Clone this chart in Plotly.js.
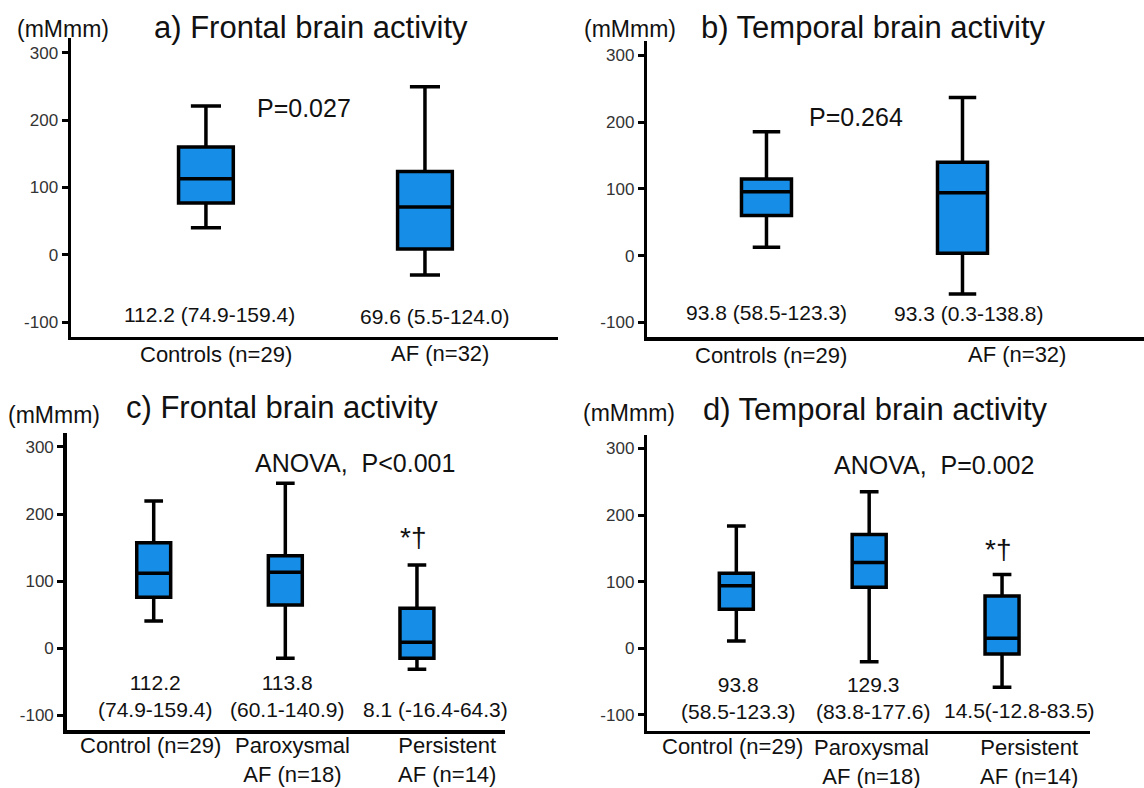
<!DOCTYPE html>
<html><head><meta charset="utf-8">
<script src="https://cdn.plot.ly/plotly-3.0.1.min.js"></script>
<style>html,body{margin:0;padding:0;background:#fff}#chart{width:1144px;height:788px}</style>
</head><body><div id="chart"></div>
<script>
// ---------- data ----------
const catsTop = ['Controls (n=29)', 'AF (n=32)'];
const catsBottom = ['Control (n=29)', 'Paroxysmal AF (n=18)', 'Persistent AF (n=14)'];
const labelsTop = ['Controls (n=29)', 'AF (n=32)'];
const labelsBottom = ['Control (n=29)', 'Paroxysmal<br>AF (n=18)', 'Persistent<br>AF (n=14)'];
const yTickVals = [-100, 0, 100, 200, 300];
const yTickText = ['-100', '0', '100', '200', '300'];

// a) Frontal, Controls vs AF
const aLower  = [40, -30];
const aQ1     = [77, 8.5];
const aMedian = [113, 71];
const aQ3     = [160, 123.5];
const aUpper  = [221, 249.5];
const aSummary = ['112.2 (74.9-159.4)', '69.6 (5.5-124.0)'];

// b) Temporal, Controls vs AF
const bLower  = [12.6, -57.3];
const bQ1     = [60, 3.6];
const bMedian = [95.8, 94.3];
const bQ3     = [114.8, 139.8];
const bUpper  = [185.6, 237];
const bSummary = ['93.8 (58.5-123.3)', '93.3 (0.3-138.8)'];

// c) Frontal, three groups
const cLower  = [40.7, -14.9, -31.3];
const cQ1     = [76, 64.5, -14.9];
const cMedian = [111.8, 113.3, 8.9];
const cQ3     = [157.4, 138, 59.6];
const cUpper  = [219.5, 245.9, 124];
const cSummary = ['112.2<br>(74.9-159.4)', '113.8<br>(60.1-140.9)', '8.1 (-16.4-64.3)'];

// d) Temporal, three groups
const dLower  = [11, -20, -58.6];
const dQ1     = [58.6, 91.6, -8.6];
const dMedian = [94, 129, 15];
const dQ3     = [112.6, 171, 78.5];
const dUpper  = [183.6, 235, 111];
const dSummary = ['93.8<br>(58.5-123.3)', '129.3<br>(83.8-177.6)', '14.5(-12.8-83.5)'];

const titles = ['a) Frontal brain activity', 'b) Temporal brain activity', 'c) Frontal brain activity', 'd) Temporal brain activity'];
const pTexts = ['P=0.027', 'P=0.264', 'ANOVA,  P<0.001', 'ANOVA,  P=0.002'];
const unitText = '(mMmm)';
const sigMark = '*†';

// ---------- layout helpers ----------
const W = 1144, H = 788;
const PX = x => x / W;
const PY = y => 1 - y / H;
const FONT = 'Liberation Sans, Arial, sans-serif';
const FILL = '#168de6';

function boxTrace(cats, lo, q1, med, q3, up, xa, ya, w) {
  return {
    type: 'box', x: cats, q1: q1, median: med, q3: q3, lowerfence: lo, upperfence: up,
    xaxis: xa, yaxis: ya, fillcolor: FILL, line: {color: '#000', width: 3.5},
    width: w, whiskerwidth: 0.55, boxpoints: false, showlegend: false
  };
}

const data = [
  boxTrace(catsTop, aLower, aQ1, aMedian, aQ3, aUpper, 'x', 'y', 0.25),
  boxTrace(catsTop, bLower, bQ1, bMedian, bQ3, bUpper, 'x2', 'y2', 0.255),
  boxTrace(catsBottom, cLower, cQ1, cMedian, cQ3, cUpper, 'x3', 'y3', 0.258),
  boxTrace(catsBottom, dLower, dQ1, dMedian, dQ3, dUpper, 'x4', 'y4', 0.256)
];

function xAx(x0, x1, range, anchor) {
  return {domain: [PX(x0), PX(x1)], range: range, type: 'category', anchor: anchor,
    showline: true, linewidth: 3.5, linecolor: '#000', showticklabels: false, ticks: '',
    showgrid: false, zeroline: false, fixedrange: true};
}
function yAx(y0, y1, range, anchor) {
  return {domain: [PY(y1), PY(y0)], range: range, anchor: anchor,
    showline: true, linewidth: 3.5, linecolor: '#000', ticks: 'outside', ticklen: 6, tickwidth: 3,
    tickcolor: '#000', tickmode: 'array', tickvals: yTickVals, ticktext: yTickText,
    tickfont: {family: FONT, size: 17, color: '#333'},
    showgrid: false, zeroline: false, fixedrange: true};
}

const ann = [];
function txt(text, x, y, size, extra) {
  ann.push(Object.assign({text: text, x: PX(x), y: PY(y), xref: 'paper', yref: 'paper',
    xanchor: 'center', yanchor: 'middle', showarrow: false,
    font: {family: FONT, size: size, color: '#111'}}, extra || {}));
}

// panel a
txt(unitText, 63, 29, 23);
txt(titles[0], 311, 28, 31);
txt(pTexts[0], 304, 108, 25);
txt(aSummary[0], 209, 315, 21);
txt(aSummary[1], 434, 316, 21);
txt(labelsTop[0], 216, 354.5, 22);
txt(labelsTop[1], 439.5, 353.5, 22);
// panel b
txt(unitText, 630, 29, 23);
txt(titles[1], 873, 27.5, 31);
txt(pTexts[1], 856, 116.5, 25);
txt(bSummary[0], 766, 312.5, 21);
txt(bSummary[1], 968, 313, 21);
txt(labelsTop[0], 771, 355, 22);
txt(labelsTop[1], 1016.5, 354, 22);
// panel c
txt(unitText, 54, 415, 23);
txt(titles[2], 282, 407.5, 31);
txt(pTexts[2], 355, 463, 25);
txt(sigMark, 413, 537, 28);
txt(cSummary[0], 155, 696, 21);
txt(cSummary[1], 287, 696, 21);
txt(cSummary[2], 435, 709, 21);
txt(labelsBottom[0], 150, 745.5, 22);
txt(labelsBottom[1], 293, 760, 22);
txt(labelsBottom[2], 447, 760, 22);
// panel d
txt(unitText, 629, 413, 23);
txt(titles[3], 875, 410, 31);
txt(pTexts[3], 934, 465, 25);
txt(sigMark, 998, 549, 28);
txt(dSummary[0], 738, 698, 21);
txt(dSummary[1], 873, 698, 21);
txt(dSummary[2], 1019, 710, 21);
txt(labelsBottom[0], 732.5, 746, 22);
txt(labelsBottom[1], 871.5, 762, 22);
txt(labelsBottom[2], 1028.5, 762, 22);

const layout = {
  width: W, height: H, margin: {l: 0, r: 0, t: 0, b: 0},
  paper_bgcolor: '#fff', plot_bgcolor: '#fff', showlegend: false,
  font: {family: FONT, color: '#111'},
  xaxis:  xAx(71, 557.7, [-0.616, 1.606], 'y'),
  yaxis:  yAx(38, 336.7, [-121.8, 322], 'x'),
  xaxis2: xAx(647.3, 1144, [-0.608, 1.926], 'y2'),
  yaxis2: yAx(40.7, 337.3, [-122.2, 321.9], 'x2'),
  xaxis3: xAx(66.7, 505, [-0.661, 2.669], 'y3'),
  yaxis3: yAx(433.3, 730, [-121.8, 320.4], 'x3'),
  xaxis4: xAx(647.3, 1090, [-0.67, 2.662], 'y4'),
  yaxis4: yAx(435, 730.7, [-123.7, 320.3], 'x4'),
  annotations: ann
};

Plotly.newPlot('chart', data, layout, {displayModeBar: false, staticPlot: true});
</script>
</body></html>
